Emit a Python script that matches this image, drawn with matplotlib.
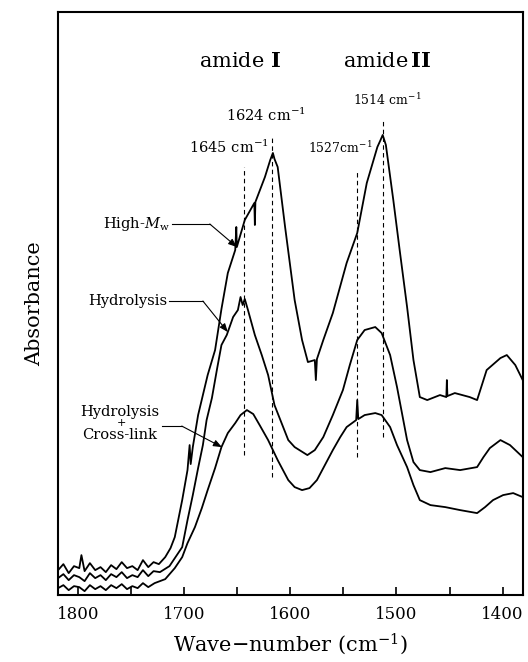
import matplotlib
matplotlib.use("Agg")
import matplotlib.pyplot as plt

plt.rcParams['font.family'] = ['DejaVu Serif']
plt.rcParams['mathtext.fontset'] = 'dejavuserif'

# wavenumber (cm-1) and absorbance (arb. units)
wn_high = [1819, 1814, 1809, 1804, 1799, 1797, 1794, 1789, 1784, 1779, 1774, 1769,
           1764, 1759, 1754, 1749, 1744, 1739, 1734, 1729, 1724, 1718, 1713, 1709,
           1702, 1697, 1695, 1694, 1692, 1687, 1678, 1671, 1665, 1659, 1652, 1651,
           1650.5, 1643, 1634, 1633.5, 1633, 1624, 1619, 1616.5, 1615, 1612, 1605,
           1596, 1589, 1583.5, 1577, 1576, 1575, 1569, 1560, 1547, 1537, 1528, 1518,
           1515, 1513, 1510, 1503, 1497, 1490, 1484, 1478, 1471, 1459, 1453, 1452.5,
           1452, 1445, 1431, 1424, 1415, 1402, 1396, 1388, 1381]
abs_high = [0.050, 0.062, 0.044, 0.058, 0.054, 0.080, 0.048, 0.064, 0.050, 0.056, 0.046, 0.060,
            0.052, 0.066, 0.054, 0.058, 0.050, 0.070, 0.056, 0.066, 0.062, 0.076, 0.094, 0.116,
            0.190, 0.250, 0.300, 0.262, 0.296, 0.360, 0.440, 0.490, 0.572, 0.644, 0.690, 0.736,
            0.696, 0.750, 0.784, 0.740, 0.786, 0.836, 0.870, 0.884, 0.872, 0.856, 0.736,
            0.590, 0.510, 0.466, 0.470, 0.430, 0.472, 0.510, 0.564, 0.664, 0.724, 0.824, 0.896,
            0.910, 0.920, 0.900, 0.790, 0.690, 0.576, 0.470, 0.396, 0.390, 0.400, 0.396, 0.430,
            0.398, 0.404, 0.396, 0.390, 0.450, 0.474, 0.480, 0.460, 0.430]

wn_hyd = [1819, 1814, 1809, 1804, 1799, 1794, 1789, 1784, 1779, 1774, 1769, 1764,
          1759, 1754, 1749, 1744, 1739, 1734, 1729, 1723, 1714, 1702, 1697, 1692,
          1687, 1682.5, 1679, 1674, 1669, 1665, 1660, 1654, 1649.5, 1647, 1645, 1643,
          1640, 1633.5, 1627, 1621, 1615, 1602, 1596, 1584, 1577, 1569, 1560, 1550.5,
          1544, 1537, 1530, 1520, 1514, 1506, 1499.5, 1490, 1484, 1478, 1468, 1454,
          1440, 1424, 1418, 1412, 1402, 1393, 1381]
abs_hyd = [0.034, 0.042, 0.030, 0.040, 0.036, 0.028, 0.044, 0.034, 0.040, 0.030, 0.042, 0.036,
           0.046, 0.034, 0.040, 0.036, 0.050, 0.038, 0.048, 0.046, 0.058, 0.096, 0.150, 0.200,
           0.254, 0.300, 0.350, 0.394, 0.454, 0.500, 0.520, 0.556, 0.570, 0.596, 0.580, 0.592,
           0.570, 0.520, 0.480, 0.440, 0.380, 0.310, 0.296, 0.280, 0.290, 0.316, 0.360, 0.410,
           0.460, 0.510, 0.530, 0.536, 0.524, 0.480, 0.416, 0.310, 0.266, 0.250, 0.246, 0.254,
           0.250, 0.256, 0.276, 0.294, 0.310, 0.300, 0.276]

wn_xl = [1819, 1814, 1809, 1804, 1799, 1794, 1789, 1784, 1779, 1774, 1769, 1764,
         1759, 1754, 1749, 1744, 1739, 1734, 1728, 1718, 1709, 1702, 1697, 1690,
         1683.5, 1678, 1671, 1665, 1659, 1652, 1647, 1641, 1635, 1629, 1621, 1612,
         1602, 1596, 1589, 1582, 1575, 1567.5, 1560, 1553, 1547, 1538, 1537, 1536,
         1530, 1520, 1514, 1506, 1499.5, 1490, 1484, 1478, 1468, 1454, 1440, 1424,
         1416.5, 1409, 1399.5, 1390, 1381]
abs_xl = [0.014, 0.020, 0.010, 0.018, 0.016, 0.008, 0.020, 0.012, 0.018, 0.010, 0.020, 0.014,
          0.022, 0.012, 0.018, 0.014, 0.024, 0.016, 0.024, 0.032, 0.054, 0.076, 0.104, 0.136,
          0.174, 0.210, 0.254, 0.296, 0.324, 0.344, 0.360, 0.370, 0.362, 0.340, 0.310, 0.270,
          0.230, 0.216, 0.210, 0.214, 0.230, 0.260, 0.290, 0.316, 0.336, 0.350, 0.390, 0.352,
          0.360, 0.364, 0.360, 0.336, 0.300, 0.256, 0.220, 0.190, 0.180, 0.176, 0.170, 0.164,
          0.176, 0.190, 0.200, 0.204, 0.196]

# peak markers: (position on figure, top, bottom)
peak_pos = [1644, 1617, 1537, 1513]
peak_top = [0.856, 0.920, 0.846, 0.950]
peak_bot = [0.280, 0.236, 0.276, 0.316]

fig = plt.figure(figsize=(5.28, 6.62), dpi=100)
ax = fig.add_axes([0.110, 0.101, 0.880, 0.881])

for wn, a in [(wn_high, abs_high), (wn_hyd, abs_hyd), (wn_xl, abs_xl)]:
    ax.plot(wn, a, color='black', lw=1.3)

for p, t, b in zip(peak_pos, peak_top, peak_bot):
    ax.plot([p, p], [b, t], color='black', lw=0.8, ls=(0, (4, 3)))

ax.set_xlim(1819, 1381)
ax.set_ylim(0, 1.166)
ax.set_xticks([1800, 1700, 1600, 1500, 1400])
ax.set_xticks([1750, 1650, 1550, 1450], minor=True)
ax.tick_params(axis='x', direction='in', length=6, width=1.2, labelsize=12, pad=8)
ax.tick_params(axis='x', which='minor', direction='in', length=6, width=1.2)
ax.set_yticks([])
for s in ax.spines.values():
    s.set_linewidth(1.5)

ax.set_xlabel(r'Wave$-$number (cm$^{-1}$)', fontsize=15, labelpad=6)
ax.set_ylabel('Absorbance', fontsize=15, labelpad=10)

ax.text(1647, 1.066, r'amide $\mathbf{I}$', fontsize=15, ha='center', va='center')
ax.text(1509, 1.066, r'amide$\,\mathbf{II}$', fontsize=15, ha='center', va='center')
ax.text(1623, 0.960, r'1624 cm$^{-1}$', fontsize=10.5, ha='center', va='center')
ax.text(1658, 0.896, r'1645 cm$^{-1}$', fontsize=10.5, ha='center', va='center')
ax.text(1553, 0.894, r'1527cm$^{-1}$', fontsize=9, ha='center', va='center')
ax.text(1509, 0.990, r'1514 cm$^{-1}$', fontsize=9, ha='center', va='center')

# sample labels with leader arrows
arrow = dict(arrowstyle='-|>,head_length=0.5,head_width=0.2', color='black', lw=0.8,
             shrinkA=0, shrinkB=0)
ax.text(1714, 0.742, r'High-$M_{\rm w}$', fontsize=10.5, ha='right', va='center')
ax.plot([1712, 1676], [0.742, 0.742], color='black', lw=0.8)
ax.annotate('', xy=(1650.5, 0.696), xytext=(1676, 0.742), arrowprops=arrow)

ax.text(1716, 0.588, 'Hydrolysis', fontsize=10.5, ha='right', va='center')
ax.plot([1714, 1682.5], [0.588, 0.588], color='black', lw=0.8)
ax.annotate('', xy=(1659, 0.526), xytext=(1682.5, 0.588), arrowprops=arrow)

ax.text(1761, 0.366, 'Hydrolysis', fontsize=10.5, ha='center', va='center')
ax.text(1759, 0.344, '+', fontsize=8, ha='center', va='center')
ax.text(1761, 0.320, 'Cross-link', fontsize=10.5, ha='center', va='center')
ax.plot([1721, 1702.4], [0.338, 0.338], color='black', lw=0.8)
ax.annotate('', xy=(1664.6, 0.296), xytext=(1702.4, 0.338), arrowprops=arrow)

fig.savefig('out.png', dpi=100)
